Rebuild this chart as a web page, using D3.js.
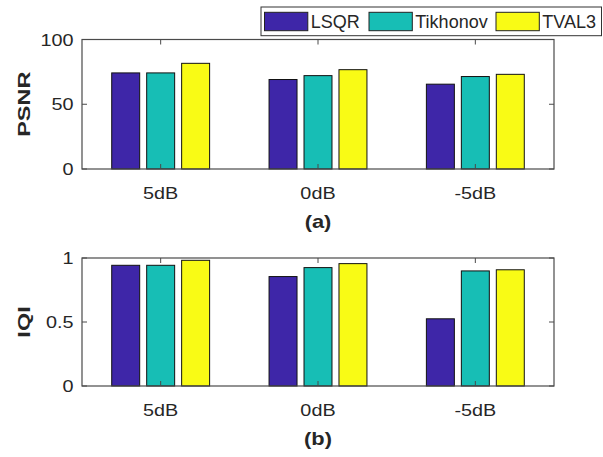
<!DOCTYPE html>
<html>
<head>
<meta charset="utf-8">
<script src="https://cdn.jsdelivr.net/npm/d3@7"></script>
<style>
  html, body { margin: 0; padding: 0; background: #fff; }
  svg { display: block; font-family: "Liberation Sans", Arial, Helvetica, sans-serif; }
</style>
</head>
<body>
<svg id="chart" width="603" height="457"></svg>
<script>
// Noise levels and reconstruction methods
const categories = ["5dB", "0dB", "-5dB"];
const methods = ["LSQR", "Tikhonov", "TVAL3"];
const methodColors = ["#3E26A8", "#17BEB5", "#F9FB15"];

// PSNR per method, one value per noise level
const psnrLSQR = [74.2, 69.1, 65.5];
const psnrTikhonov = [74.2, 72.1, 71.4];
const psnrTVAL3 = [81.6, 76.7, 73.1];

// IQI per method, one value per noise level
const iqiLSQR = [0.943, 0.855, 0.525];
const iqiTikhonov = [0.943, 0.925, 0.899];
const iqiTVAL3 = [0.982, 0.956, 0.908];

const psnrTicks = [0, 50, 100];
const iqiTicks = [0, 0.5, 1];
const iqiTickLabels = ["0", "0.5", "1"];

const svg = d3.select("#chart");
const textColor = "#262626";
const axisColor = "#4a4a4a";
const stretchX = 1.2;

// widen a text node horizontally by a factor
function stretch(sel, k) {
  sel.each(function () {
    const w = this.getComputedTextLength();
    d3.select(this).attr("textLength", w * k).attr("lengthAdjust", "spacingAndGlyphs");
  });
  return sel;
}

function panel(opts) {
  const { top, bottom, left, right, domainMax, ticks, tickLabels, series, ylabel, caption } = opts;
  const g = svg.append("g");

  const x = d3.scaleBand().domain(categories).range([left, right]).paddingInner(0).paddingOuter(0);
  const groupW = x.bandwidth() * 2 / 3;
  const xs = d3.scaleBand().domain(methods).range([-groupW / 2, groupW / 2])
    .paddingInner(0.2).paddingOuter(0.1);
  const y = d3.scaleLinear().domain([0, domainMax]).range([bottom, top]);

  // bars
  const rows = [];
  categories.forEach((c, i) => {
    methods.forEach((m, j) => rows.push({ c, m, j, v: series[j][i] }));
  });
  g.selectAll("rect.bar").data(rows).enter().append("rect")
    .attr("class", "bar")
    .attr("x", d => x(d.c) + x.bandwidth() / 2 + xs(d.m))
    .attr("width", xs.bandwidth())
    .attr("y", d => y(d.v))
    .attr("height", d => y(0) - y(d.v))
    .attr("fill", d => methodColors[d.j])
    .attr("stroke", "#111")
    .attr("stroke-width", 1);

  // axes box
  g.append("rect")
    .attr("x", left).attr("y", top)
    .attr("width", right - left).attr("height", bottom - top)
    .attr("fill", "none").attr("stroke", axisColor).attr("stroke-width", 1.2);

  const tl = 5;
  // x ticks (inward, top and bottom)
  categories.forEach(c => {
    const cx = x(c) + x.bandwidth() / 2;
    g.append("line").attr("x1", cx).attr("x2", cx).attr("y1", bottom).attr("y2", bottom - tl)
      .attr("stroke", axisColor).attr("stroke-width", 1);
    g.append("line").attr("x1", cx).attr("x2", cx).attr("y1", top).attr("y2", top + tl)
      .attr("stroke", axisColor).attr("stroke-width", 1);
  });
  // y ticks (inward, left and right)
  ticks.forEach(t => {
    const ty = y(t);
    g.append("line").attr("x1", left).attr("x2", left + tl).attr("y1", ty).attr("y2", ty)
      .attr("stroke", axisColor).attr("stroke-width", 1);
    g.append("line").attr("x1", right).attr("x2", right - tl).attr("y1", ty).attr("y2", ty)
      .attr("stroke", axisColor).attr("stroke-width", 1);
  });

  // x tick labels
  stretch(g.selectAll("text.xt").data(categories).enter().append("text")
    .attr("class", "xt")
    .attr("x", c => x(c) + x.bandwidth() / 2)
    .attr("y", bottom + 30)
    .attr("text-anchor", "middle")
    .attr("font-size", 16.5)
    .attr("fill", textColor)
    .text(c => c), stretchX);

  // y tick labels
  stretch(g.selectAll("text.yt").data(ticks).enter().append("text")
    .attr("class", "yt")
    .attr("x", left - 8.5)
    .attr("y", t => y(t) + 6)
    .attr("text-anchor", "end")
    .attr("font-size", 16.5)
    .attr("fill", textColor)
    .text((t, i) => tickLabels[i]), stretchX);

  // y label
  stretch(g.append("text")
    .attr("transform", `translate(30,${(top + bottom) / 2}) rotate(-90)`)
    .attr("text-anchor", "middle")
    .attr("font-size", 17)
    .attr("font-weight", "bold")
    .attr("fill", textColor)
    .text(ylabel), 1.38);

  // panel caption
  stretch(g.append("text")
    .attr("x", (left + right) / 2)
    .attr("y", bottom + 58.5)
    .attr("text-anchor", "middle")
    .attr("font-size", 18.5)
    .attr("font-weight", "bold")
    .attr("fill", textColor)
    .text(caption), 1.18);
}

panel({
  top: 39.5, bottom: 169, left: 82, right: 554,
  domainMax: 100, ticks: psnrTicks, tickLabels: psnrTicks.map(String),
  series: [psnrLSQR, psnrTikhonov, psnrTVAL3], ylabel: "PSNR", caption: "(a)"
});

panel({
  top: 258, bottom: 386, left: 82, right: 554,
  domainMax: 1, ticks: iqiTicks, tickLabels: iqiTickLabels,
  series: [iqiLSQR, iqiTikhonov, iqiTVAL3], ylabel: "IQI", caption: "(b)"
});

// legend
const legend = svg.append("g");
legend.append("rect")
  .attr("x", 261).attr("y", 7).attr("width", 340.5).attr("height", 28.7)
  .attr("fill", "#fff").attr("stroke", "#333").attr("stroke-width", 1);
const swatchX = [264.5, 369, 496];
methods.forEach((m, i) => {
  legend.append("rect")
    .attr("x", swatchX[i]).attr("y", 12.3).attr("width", 43.3).attr("height", 18.4)
    .attr("fill", methodColors[i]).attr("stroke", "#222").attr("stroke-width", 1);
  legend.append("text")
    .attr("x", swatchX[i] + 46.3).attr("y", 28)
    .attr("font-size", 18)
    .attr("fill", textColor)
    .text(m);
});
</script>
</body>
</html>
